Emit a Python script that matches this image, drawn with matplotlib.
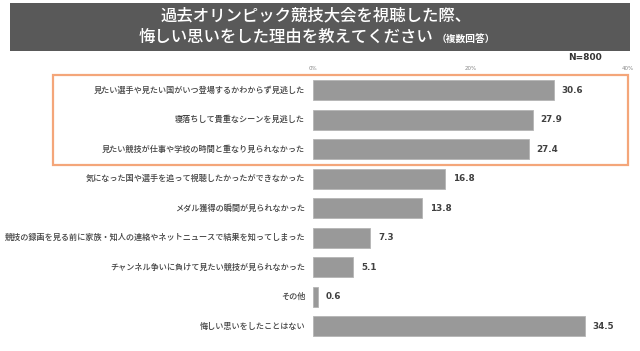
import matplotlib.pyplot as plt
from matplotlib.patches import Rectangle

plt.rcParams['font.family'] = ['Noto Sans CJK JP', 'DejaVu Sans']

# data
labels = [
    '見たい選手や見たい国がいつ登場するかわからず見逃した',
    '寝落ちして貴重なシーンを見逃した',
    '見たい競技が仕事や学校の時間と重なり見られなかった',
    '気になった国や選手を追って視聴したかったができなかった',
    'メダル獲得の瞬間が見られなかった',
    '競技の録画を見る前に家族・知人の連絡やネットニュースで結果を知ってしまった',
    'チャンネル争いに負けて見たい競技が見られなかった',
    'その他',
    '悔しい思いをしたことはない',
]
values = [30.6, 27.9, 27.4, 16.8, 13.8, 7.3, 5.1, 0.6, 34.5]
ticks = [0, 20, 40]
tick_labels = ['0%', '20%', '40%']

W, H = 640, 351
fig = plt.figure(figsize=(6.4, 3.51), dpi=100)

# title bar
fig.patches.append(Rectangle((10 / W, 1 - 51 / H), 620 / W, 48 / H,
                             transform=fig.transFigure, facecolor='#595959',
                             edgecolor='none', zorder=0))
fig.text(316 / W, 1 - 15.5 / H, '過去オリンピック競技大会を視聴した際、', color='white',
         fontsize=11.8, fontweight='medium', ha='center', va='center')
fig.text(286 / W, 1 - 37.5 / H, '悔しい思いをした理由を教えてください', color='white',
         fontsize=11.8, fontweight='medium', ha='center', va='center')
fig.text(466 / W, 1 - 38.5 / H, '（複数回答）', color='white',
         fontsize=7, fontweight='bold', ha='center', va='center')

fig.text(602 / W, 1 - 57 / H, 'N=800', fontsize=6.5, fontweight='bold',
         color='#333333', ha='right', va='center', family='DejaVu Sans')

# highlight box
fig.patches.append(Rectangle((53 / W, 1 - 165 / H), 575 / W, 90 / H,
                             transform=fig.transFigure, facecolor='none',
                             edgecolor='#F4A67A', linewidth=1.6, zorder=5))

ax = fig.add_axes([313 / W, 1 - 341 / H, 315 / W, 265.5 / H])
y = list(range(len(values)))
ax.barh(y, values, height=0.68, color='#999999', edgecolor='#b5b5b5', linewidth=0.6)
ax.set_xlim(0, 40)
ax.set_ylim(len(values) - 0.5, -0.5)
ax.axis('off')

for i, (lab, v) in enumerate(zip(labels, values)):
    ax.text(-1.0, i, lab, ha='right', va='center', fontsize=5.85,
            color='#404040', fontweight='medium', clip_on=False)
    ax.text(v + 1.0, i, f'{v:.1f}', ha='left', va='center', fontsize=6.3,
            fontweight='bold', color='#404040', family='DejaVu Sans')

for t, tl in zip(ticks, tick_labels):
    ax.text(t, -0.75, tl, ha='center', va='center', fontsize=4,
            color='#888888', clip_on=False, family='DejaVu Sans')

fig.savefig('out.png', dpi=100)
